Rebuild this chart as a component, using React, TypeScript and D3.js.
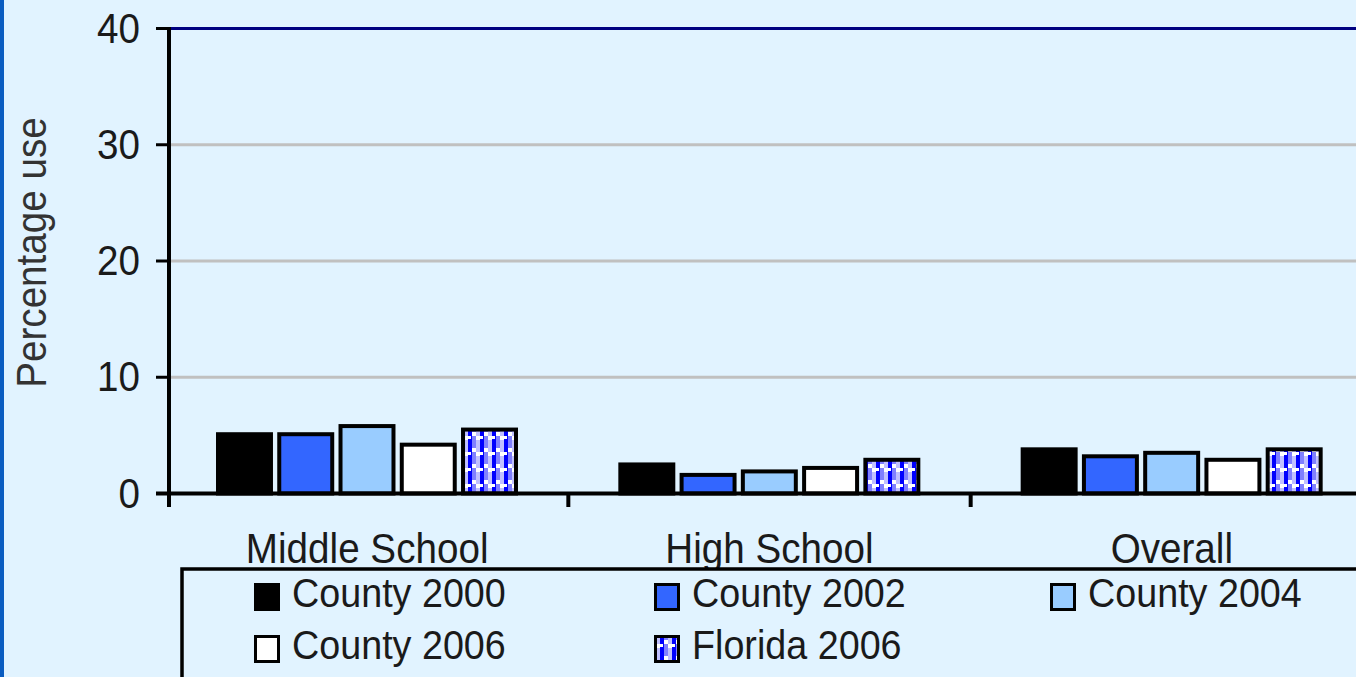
import React from "react";
import * as d3 from "d3";

const categories = ["Middle School", "High School", "Overall"];
const series = ["County 2000", "County 2002", "County 2004", "County 2006", "Florida 2006"];
const county2000 = [5.1, 2.5, 3.8];
const county2002 = [5.1, 1.6, 3.2];
const county2004 = [5.8, 1.9, 3.5];
const county2006 = [4.2, 2.2, 2.9];
const florida2006 = [5.5, 2.9, 3.8];
const yTicks = [0, 10, 20, 30, 40];
const yLabel = "Percentage use";

const seriesValues = [county2000, county2002, county2004, county2006, florida2006];
const fills = ["#000000", "#3366ff", "#99ccff", "#ffffff", "url(#flPat)"];

const W = 1356;
const H = 677;
const BG = "#e1f3ff";
const FONT = "Arial, 'Liberation Sans', sans-serif";
const SX = 0.92;

export default function App() {
  const y = d3.scaleLinear().domain([0, 40]).range([493.5, 28.5]);
  const x0 = d3.scaleBand<string>().domain(categories).range([166, 1373]).padding(0);
  const x1 = d3.scaleBand<string>().domain(series).range([50, 352]).paddingInner(0.07).paddingOuter(0);
  const sw = 4;

  const legendCols = [254, 654, 1050];
  const legendRows = [583, 635];

  return (
    <svg
      width={W}
      height={H}
      style={{ position: "absolute", left: 0, top: 0, display: "block" }}
      fontFamily={FONT}
    >
      <defs>
        <pattern id="flPat" width={12} height={16} patternUnits="userSpaceOnUse">
          <rect x={0} y={0} width={12} height={16} fill="#8080ff" />
          <rect x={0} y={0} width={4} height={16} fill="#0000ff" />
          <rect x={8} y={0} width={4} height={16} fill="#c0c0ff" />
          <rect x={4} y={0} width={4} height={4} fill="#ffffff" />
          <rect x={8} y={4} width={4} height={4} fill="#ffffff" />
          <rect x={0} y={4} width={3} height={3} fill="#ffffff" />
        </pattern>
      </defs>
      <rect x={0} y={0} width={W} height={H} fill={BG} />
      <rect x={0} y={0} width={4} height={H} fill="#0a5cc0" />

      {/* gridlines */}
      {yTicks.filter((t) => t > 0 && t < 40).map((t) => (
        <line key={t} x1={170} x2={W} y1={y(t)} y2={y(t)} stroke="#c0c0c0" strokeWidth={3} />
      ))}
      <line x1={170} x2={W} y1={y(40)} y2={y(40)} stroke="#000080" strokeWidth={3} />

      {/* bars */}
      {categories.map((c, ci) => (
        <g key={c}>
          {series.map((s, si) => {
            const v = seriesValues[si][ci];
            const bx = (x0(c) as number) + (x1(s) as number);
            const bw = x1.bandwidth();
            return (
              <rect
                key={s}
                x={bx + sw / 2}
                y={y(v)}
                width={bw - sw}
                height={y(0) - y(v)}
                fill={fills[si]}
                stroke="#000"
                strokeWidth={sw}
              />
            );
          })}
        </g>
      ))}

      {/* y axis */}
      <line x1={169} x2={169} y1={27} y2={507} stroke="#000" strokeWidth={4} />
      {yTicks.map((t) => (
        <g key={t}>
          <line x1={156} x2={169} y1={y(t)} y2={y(t)} stroke="#000" strokeWidth={3} />
          <text
            transform={`translate(140,${y(t) + 14}) scale(${SX},1)`}
            textAnchor="end"
            fontSize={42}
            fill="#1a1a1a"
          >
            {t}
          </text>
        </g>
      ))}
      <text
        transform={`translate(46,252.5) rotate(-90) scale(${SX},1)`}
        textAnchor="middle"
        fontSize={42}
        fill="#333"
      >
        {yLabel}
      </text>

      {/* x axis */}
      <line x1={156} x2={W} y1={y(0)} y2={y(0)} stroke="#000" strokeWidth={4} />
      {categories.slice(1).map((c) => (
        <line
          key={c}
          x1={x0(c) as number}
          x2={x0(c) as number}
          y1={y(0)}
          y2={507}
          stroke="#000"
          strokeWidth={4}
        />
      ))}
      {categories.map((c) => (
        <text
          key={c}
          transform={`translate(${(x0(c) as number) + x0.bandwidth() / 2},563) scale(${SX},1)`}
          textAnchor="middle"
          fontSize={42}
          fill="#1a1a1a"
        >
          {c}
        </text>
      ))}

      {/* legend */}
      <rect x={182} y={569} width={W + 20 - 182} height={200} fill={BG} stroke="#000" strokeWidth={3.5} />
      {series.map((s, i) => {
        const col = i % 3;
        const row = Math.floor(i / 3);
        const lx = legendCols[col];
        const ly = legendRows[row];
        return (
          <g key={s}>
            <rect x={lx + 1.5} y={ly + 1.5} width={23} height={25} fill={fills[i]} stroke="#000" strokeWidth={3} />
            <text
              transform={`translate(${lx + 38},${ly + 24}) scale(${SX},1)`}
              fontSize={41}
              fill="#1a1a1a"
            >
              {s}
            </text>
          </g>
        );
      })}
    </svg>
  );
}
